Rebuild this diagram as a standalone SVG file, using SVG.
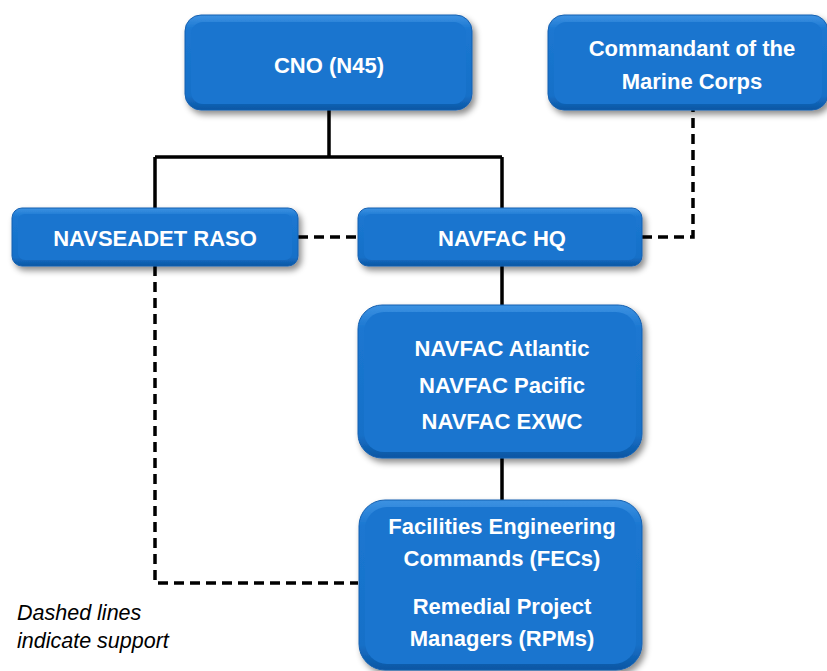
<svg xmlns="http://www.w3.org/2000/svg" width="827" height="671" viewBox="0 0 827 671">
<defs>
<linearGradient id="g" x1="0" y1="0" x2="0" y2="1">
<stop offset="0" stop-color="#3d92e2"/>
<stop offset="0.15" stop-color="#1b77d1"/>
<stop offset="0.85" stop-color="#1670c8"/>
<stop offset="1" stop-color="#0c56a3"/>
</linearGradient>
<filter id="sh" x="-10%" y="-10%" width="125%" height="130%">
<feDropShadow dx="3" dy="4" stdDeviation="3" flood-color="#000" flood-opacity="0.45"/>
</filter>
<style>
.box{fill:url(#g);stroke:#1560b0;stroke-width:1;filter:url(#sh)}
.inner{fill:#1a75cf}
.t{font-family:"Liberation Sans",Arial,sans-serif;font-weight:bold;font-size:22px;fill:#fff;text-anchor:middle}
.solid{fill:none;stroke:#000;stroke-width:3.5}
.dash{fill:none;stroke:#000;stroke-width:3.5;stroke-dasharray:10 6}
.note{font-family:"Liberation Sans",Arial,sans-serif;font-style:italic;font-size:21.5px;fill:#000}
</style>
</defs>
<g id="connectors">
<path class="solid" d="M329 110 V157 M155 157 H502 M155 157 V209 M502 157 V209 M502 266 V306 M502 458 V500"/>
<path class="dash" d="M298 237 H358"/>
<path class="dash" d="M642 237 H693 V110"/>
<path class="dash" d="M155 266 V583 H358"/>
</g>
<g id="cno">
<rect class="box" x="185" y="15" width="287" height="95" rx="16"/>
<rect class="inner" x="191" y="22" width="275" height="82" rx="12"/>
<text class="t" x="329" y="73">CNO (N45)</text>
</g>
<g id="cmc">
<rect class="box" x="548" y="15" width="280" height="95" rx="16"/>
<rect class="inner" x="554" y="22" width="268" height="82" rx="12"/>
<text class="t" x="692" y="56">Commandant of the</text>
<text class="t" x="692" y="89">Marine Corps</text>
</g>
<g id="navseadet">
<rect class="box" x="12" y="208" width="286" height="58" rx="10"/>
<rect class="inner" x="18" y="214" width="274" height="46" rx="7"/>
<text class="t" x="155" y="246">NAVSEADET RASO</text>
</g>
<g id="navfachq">
<rect class="box" x="358" y="208" width="284" height="58" rx="10"/>
<rect class="inner" x="364" y="214" width="272" height="46" rx="7"/>
<text class="t" x="502" y="246">NAVFAC HQ</text>
</g>
<g id="navfac-components">
<rect class="box" x="358" y="305" width="284" height="153" rx="24"/>
<rect class="inner" x="364" y="312" width="272" height="140" rx="20"/>
<text class="t" x="502" y="356">NAVFAC Atlantic</text>
<text class="t" x="502" y="393">NAVFAC Pacific</text>
<text class="t" x="502" y="429">NAVFAC EXWC</text>
</g>
<g id="fec">
<rect class="box" x="359" y="500" width="283" height="170" rx="26"/>
<rect class="inner" x="365" y="507" width="271" height="157" rx="22"/>
<text class="t" x="502" y="534">Facilities Engineering</text>
<text class="t" x="502" y="566">Commands (FECs)</text>
<text class="t" x="502" y="614">Remedial Project</text>
<text class="t" x="502" y="646">Managers (RPMs)</text>
</g>
<g id="legend">
<text class="note" x="17" y="620">Dashed lines</text>
<text class="note" x="17" y="648">indicate support</text>
</g>
</svg>
